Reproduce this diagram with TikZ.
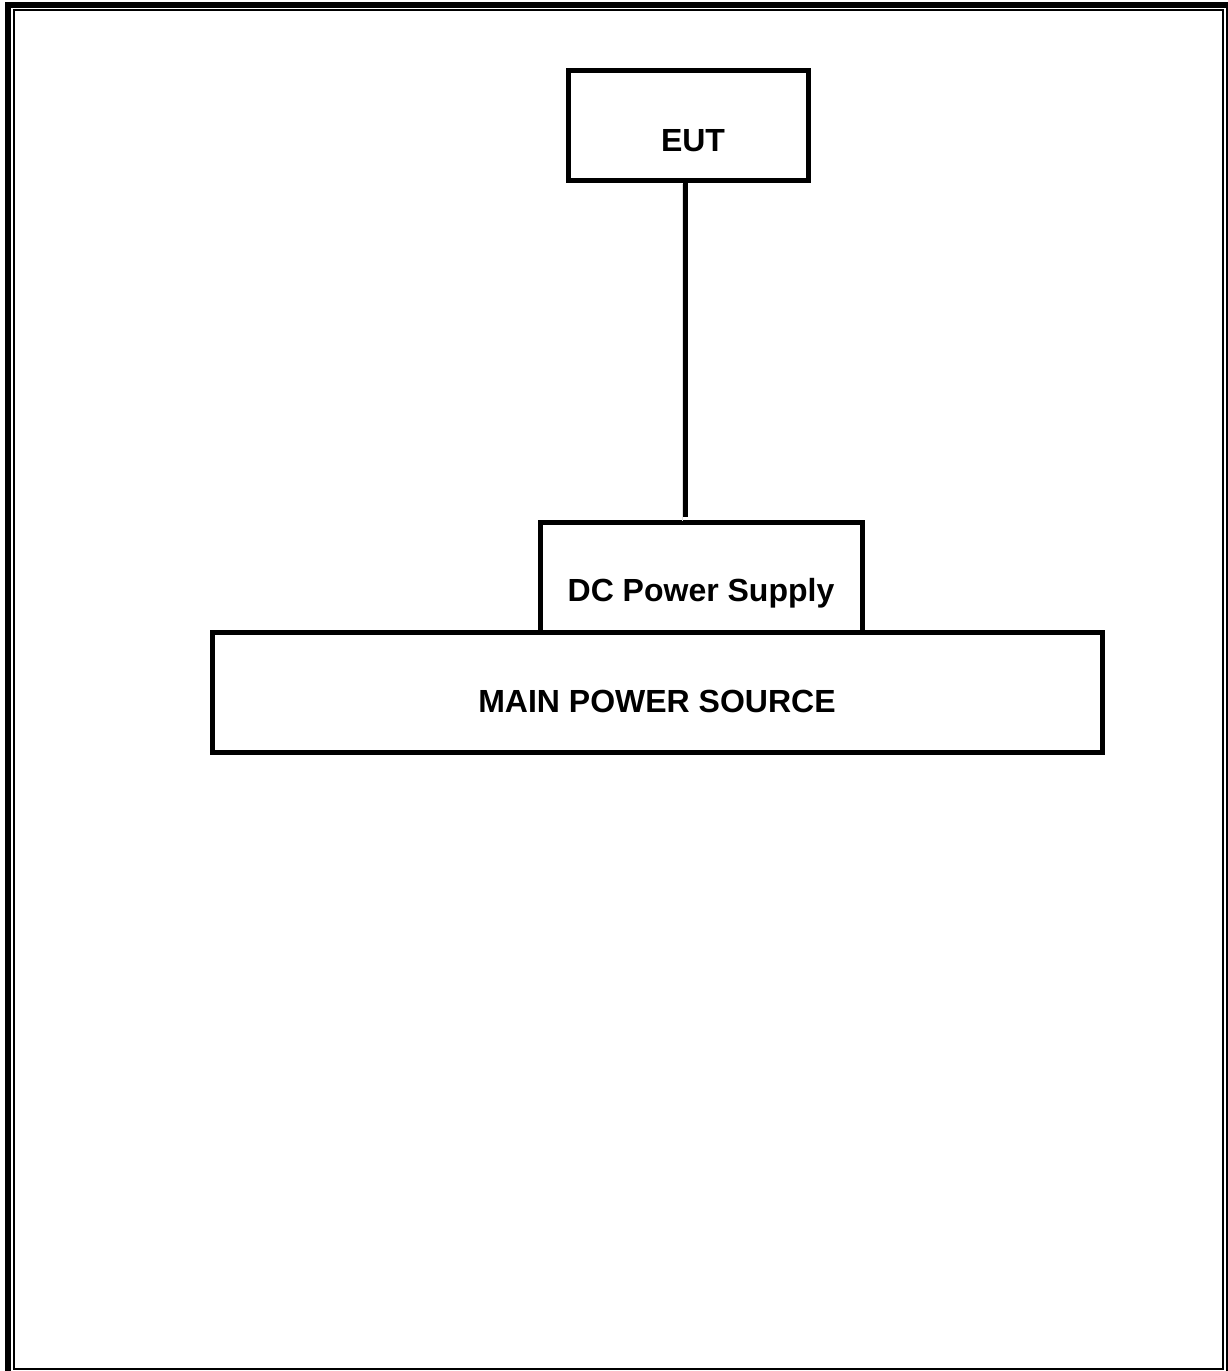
\documentclass[tikz,border=0pt]{standalone}
\usepackage{fontspec}
\setmainfont{Liberation Sans}
\begin{document}
\begin{tikzpicture}[x=1pt,y=-1pt,
  boxstyle/.style={draw=black, line width=5pt, inner sep=0pt, outer sep=0pt, fill=white},
  labelstyle/.style={font=\fontsize{32}{38}\selectfont\bfseries, anchor=base, inner sep=0pt},
  wire/.style={line width=4.5pt, draw=black}]
\useasboundingbox (0,0) rectangle (1228,1371);
\fill[white] (0,0) rectangle (1228,1371);
% page border (thick-thin)
\fill[black] (4.8,2) rectangle (11.2,1371);
\fill[black] (4.8,2) rectangle (1228,8.2);
\fill[black] (13,9.2) rectangle (15.2,1369.5);
\fill[black] (13,9.2) rectangle (1224.3,11.2);
\fill[black] (1222.3,9.2) rectangle (1224.3,1369.5);
\fill[black] (13,1367.5) rectangle (1224.3,1369.5);
\fill[black] (1226,2) rectangle (1228,1371);
% boxes
\node[boxstyle, minimum width=890pt, minimum height=120pt] (main) at (657,692) {};
\node[boxstyle, minimum width=321.5pt, minimum height=110pt] (dc) at (701.25,577) {};
\draw[line width=5pt] (main.north west) -- (main.north east);
\node[boxstyle, minimum width=240pt, minimum height=110pt] (eut) at (688.5,125) {};
% texts
\node[labelstyle] (euttext) at (693,151) {EUT};
\node[labelstyle] (dctext) at (701,601.5) {DC Power Supply};
\node[labelstyle] (maintext) at (657,712) {MAIN POWER SOURCE};
% connector
\coordinate (ltop) at (685.5,182);
\coordinate (lbot) at (685.5,517);
\draw[line width=1.5pt, gray!25] (682.5,184) -- (682.5,521);
\draw[wire] (ltop) -- (lbot);
\end{tikzpicture}
\end{document}
